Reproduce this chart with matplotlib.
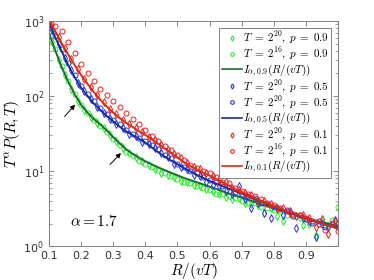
import numpy as np
import matplotlib
matplotlib.use("Agg")
import matplotlib.pyplot as plt
from matplotlib.lines import Line2D

plt.rcParams['mathtext.fontset'] = 'cm'
plt.rcParams['font.family'] = ['DejaVu Sans']

# theory curves I_{alpha,p}(R/(vT))
x_line = [0.10, 0.12, 0.14, 0.16, 0.18, 0.20, 0.22, 0.24, 0.26, 0.28, 0.30, 0.32, 0.34, 0.36, 0.38,
          0.40, 0.44, 0.48, 0.52, 0.56, 0.60, 0.64, 0.68, 0.72, 0.76, 0.80, 0.84, 0.88, 0.92, 0.96, 1.00]
red_line = [1050, 725, 500, 355, 257, 190, 145, 112, 89, 72, 60, 51, 44, 38.9, 34,
            30.2, 23, 17.4, 13.2, 10.5, 8.7, 7.1, 5.75, 4.8, 4.05, 3.4, 2.95, 2.57, 2.24, 1.95, 1.7]
blue_line = [955, 600, 390, 257, 178, 129, 100, 79, 65, 54, 46, 39, 34, 30.2, 26.9,
             24, 17.8, 13.8, 11, 8.9, 7.4, 6.3, 5.4, 4.6, 3.9, 3.3, 2.88, 2.5, 2.19, 1.95, 1.74]
green_line = [690, 400, 240, 155, 105, 76, 60, 49, 41.7, 34.7, 28.2, 23.4, 19.5, 17, 15.1,
              13.5, 11.2, 9.5, 8.1, 7.1, 6.2, 5.4, 4.7, 4.15, 3.6, 3.2, 2.8, 2.5, 2.24, 2.04, 1.86]

# simulation data: circles at even x (T=2^16), diamonds at odd x (T=2^20)
x_circ = np.round(np.arange(0.10, 1.001, 0.02), 2)
x_diam = np.round(np.arange(0.11, 0.991, 0.02), 2)

red_circ = [1050, 860, 725, 525, 372, 269, 204, 158, 126, 102, 85, 71, 59, 50, 42, 35.5,
            29.5, 25.1, 21.4, 19.1, 16.6, 14.1, 12.0, 11.0, 10.0, 9.3, 8.3, 7.2, 6.9, 5.9, 5.5,
            4.9, 4.6, 4.2, 3.6, 3.55, 3.16, 3.0, 2.7, 2.6, 2.4, 2.15, 2.0, 1.66, 2.05, 1.58]
red_diam = [912, 617, 437, 309, 229, 170, 132, 102, 83, 68, 57.5, 48, 42.7, 37, 33, 28.8,
            25.7, 22.4, 19, 17, 14.8, 12.9, 11.5, 10.5, 9.3, 8.5, 7.6, 7.1, 6.0, 5.6, 5.1,
            4.8, 4.0, 4.0, 3.6, 3.2, 3.2, 2.75, 2.5, 2.6, 2.4, 1.8, 2.3, 1.45, 2.15]
blue_circ = [980, 630, 420, 275, 190, 138, 107, 85, 69, 58, 48, 42, 35.5, 31.6, 27.5, 25,
             22, 19.5, 16.6, 14.8, 12.6, 11.5, 10, 9.3, 8.3, 7.6, 7.2, 6.3, 6.2, 5.2, 5.0,
             4.6, 4.4, 3.8, 3.7, 3.3, 3.2, 2.95, 2.5, 2.6, 2.3, 2.05, 2.15, 1.8, 2.0, 1.78]
blue_diam = [760, 490, 325, 220, 150, 115, 91, 72, 59, 50, 43, 38, 31.6, 29, 24.5, 23,
             20, 17.4, 15.5, 12.6, 11.2, 10.5, 8.9, 8.5, 7.2, 6.6, 6.3, 5.5, 5.0, 6.3, 4.2,
             3.2, 3.8, 2.8, 2.35, 3.2, 2.6, 2.95, 1.74, 2.4, 2.15, 1.32, 2.0, 1.78, 2.25]
green_circ = [720, 420, 250, 160, 107, 76, 59, 48, 40, 33, 27, 22.4, 18.2, 15.8, 13.8, 12.3,
              11.2, 10.2, 9.3, 8.7, 7.9, 7.2, 6.9, 6.3, 6.0, 5.6, 5.0, 4.9, 4.6, 4.4, 4.0,
              3.8, 3.7, 3.3, 3.2, 3.0, 2.9, 2.6, 2.6, 2.35, 2.3, 2.15, 2.0, 1.9, 2.2, 3.3]
green_diam = [525, 300, 190, 126, 87, 66, 52, 44, 37, 30, 25, 20.4, 17.4, 15.5, 13.5, 12,
              10.7, 9.5, 8.9, 8.3, 7.4, 7.1, 6.5, 6.3, 5.8, 5.4, 5.0, 4.5, 4.3, 4.4, 3.7,
              3.6, 3.5, 2.8, 3.2, 2.5, 2.15, 2.8, 2.5, 1.9, 2.0, 1.4, 2.15, 1.85, 2.0]

labels = [r'$T\;=\;2^{20},\;p\;=\;0.9$', r'$T\;=\;2^{16},\;p\;=\;0.9$', r'$I_{\alpha,0.9}(R/(vT))$',
          r'$T\;=\;2^{20},\;p\;=\;0.5$', r'$T\;=\;2^{20},\;p\;=\;0.5$', r'$I_{\alpha,0.5}(R/(vT))$',
          r'$T\;=\;2^{20},\;p\;=\;0.1$', r'$T\;=\;2^{16},\;p\;=\;0.1$', r'$I_{\alpha,0.1}(R/(vT))$']

fig = plt.figure(figsize=(3.74, 2.8), dpi=100)
ax = fig.add_axes([0.131, 0.121, 0.773, 0.804])

ms = 3.6
mew = 0.7
groups = [('#22ee22', '#1d6b36', green_diam, green_circ, green_line),
          ('#2233ee', '#1c2f8f', blue_diam, blue_circ, blue_line),
          ('#ee2222', '#dd2a10', red_diam, red_circ, red_line)]
for mc, lc, dd, cc, ll in groups:
    ax.plot(x_diam, dd, 'd', ms=ms, mfc='none', mec=mc, mew=mew)
    ax.plot(x_circ, cc, 'o', ms=ms, mfc='none', mec=mc, mew=mew)
    ax.plot(x_line, ll, '-', color=lc, lw=1.4)

ax.set_yscale('log')
ax.set_xlim(0.1, 1.0)
ax.set_ylim(1, 1000)
ax.set_xticks([0.1, 0.2, 0.3, 0.4, 0.5, 0.6, 0.7, 0.8, 0.9])
ax.set_xticklabels(['0.1', '0.2', '0.3', '0.4', '0.5', '0.6', '0.7', '0.8', '0.9'])
ax.tick_params(which='both', direction='in', top=True, right=True, labelsize=8,
               color='#777777', labelcolor='#333333')
ax.tick_params(which='major', length=3.5, width=0.6)
ax.tick_params(which='minor', length=2, width=0.5)
for s in ax.spines.values():
    s.set_color('#808080')
    s.set_linewidth(0.7)

ax.set_xlabel(r'$R/(vT)$', fontsize=11, labelpad=0)
ax.set_ylabel(r'$T^{\alpha}P(R,T)$', fontsize=11, labelpad=1)

ax.text(0.165, 2.1, r'$\alpha=1.7$', fontsize=11, va='center')
ax.annotate('', xy=(0.187, 82), xytext=(0.143, 50),
            arrowprops=dict(arrowstyle='-|>', color='k', lw=0.7, mutation_scale=7))
ax.annotate('', xy=(0.33, 18.5), xytext=(0.284, 11.5),
            arrowprops=dict(arrowstyle='-|>', color='k', lw=0.7, mutation_scale=7))

# legend handles
handles = []
for mc, lc, dd, cc, ll in groups:
    handles.append(Line2D([], [], ls='none', marker='d', ms=2.6, mfc='none', mec=mc, mew=0.8))
    handles.append(Line2D([], [], ls='none', marker='o', ms=2.6, mfc='none', mec=mc, mew=0.8))
    handles.append(Line2D([], [], color=lc, lw=1.2))
leg = ax.legend(handles, labels, loc='upper right', fontsize=8, frameon=True, fancybox=False,
                edgecolor='#808080', framealpha=1, handlelength=1.8, handletextpad=0.1,
                labelspacing=0.0, borderpad=0.25, borderaxespad=0.6)
leg.get_frame().set_linewidth(0.7)

fig.savefig('out.png', dpi=100)
